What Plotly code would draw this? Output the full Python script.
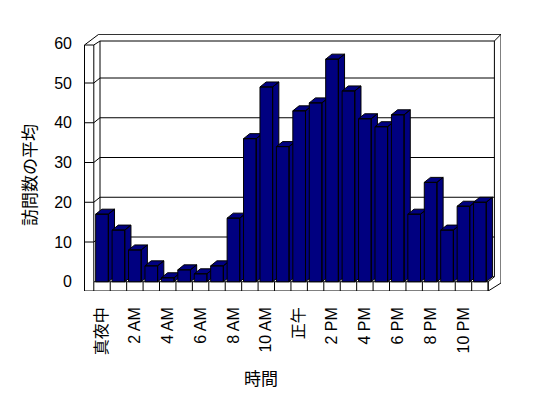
import plotly.graph_objects as go

# ---- data ----
hours = list(range(24))
visits = [17, 13, 8, 4, 1, 3, 2, 4, 16, 36, 49, 34, 43, 45, 56, 48, 41, 39, 42, 17, 25, 13, 19, 20]
tick_positions = [0, 2, 4, 6, 8, 10, 12, 14, 16, 18, 20, 22]
tick_labels = ["真夜中", "2 AM", "4 AM", "6 AM", "8 AM", "10 AM", "正午", "2 PM", "4 PM", "6 PM", "8 PM", "10 PM"]
y_ticks = [0, 10, 20, 30, 40, 50, 60]
x_title = "時間"
y_title = "訪問数の平均"

# ---- geometry (pixel <-> data helpers for the 3D frame) ----
W, H = 548, 398
PITCH = 16.43          # px per category
CX0 = 102.0            # px of category 0 centre
PX_PER_UNIT = 3.975    # px per value unit
Y0 = 281.75            # px of value 0 on front plane
L, R, T, B = 84, 501, 34, 291


def X(px):
    return (px - CX0) / PITCH


def Y(py):
    return (Y0 - py) / PX_PER_UNIT


def PX(px):
    return (px - L) / (R - L)


def PY(py):
    return (B - py) / (B - T)


DX = 6.2 / PITCH
DY = 5.0 / PX_PER_UNIT
BW = 0.77
NAVY = "#000080"

fig = go.Figure()

# bars as 3D prisms (side, top, front), drawn left to right
for i, v in zip(hours, visits):
    xl, xr = i - BW / 2, i + BW / 2
    xs, ys = [], []
    xs += [xr, xr, xr + DX, xr + DX, xr, None]
    ys += [0, v, v + DY, DY, 0, None]
    xs += [xl, xr, xr + DX, xl + DX, xl, None]
    ys += [v, v, v + DY, v + DY, v, None]
    xs += [xl, xr, xr, xl, xl]
    ys += [0, 0, v, v, 0]
    fig.add_trace(go.Scatter(
        x=xs, y=ys, mode="lines", fill="toself", fillcolor=NAVY,
        line=dict(color="black", width=1), hoverinfo="skip", showlegend=False,
        cliponaxis=False,
    ))

shapes = []


def seg(p1, p2, layer="below"):
    shapes.append(dict(type="line", xref="x", yref="y",
                       x0=X(p1[0]), y0=Y(p1[1]), x1=X(p2[0]), y1=Y(p2[1]),
                       line=dict(color="black", width=1), layer=layer))


left_out, left_in, back_l, back_r, out_r = 84.5, 93.8, 100.0, 494.4, 501.0
front_r = 488.2
top_out, top_in = 34.3, 41.0
floor_top, floor_bot, back_floor = 281.75, 291.0, 276.75

# left wall
seg((left_out, 45), (left_out, floor_bot))
seg((left_out, 45), (left_in, 45))
seg((left_in, 45), (left_in, floor_top))
seg((left_out, 45), (98.7, top_out))
seg((left_in, 45), (back_l, top_in))
seg((back_l, top_in), (back_l, back_floor))
# back wall
seg((98.7, top_out), (out_r, top_out))
seg((back_l, top_in), (back_r, top_in))
seg((back_r, top_in), (out_r, top_out))
seg((back_r, top_in), (back_r, back_floor))
seg((out_r, top_out), (out_r, 283.0))
seg((back_l, back_floor), (back_r, back_floor))
# floor slab
seg((left_in, floor_top), (front_r, floor_top))
seg((left_out, floor_bot), (front_r, floor_bot))
seg((front_r, floor_top), (front_r, floor_bot))
seg((front_r, floor_bot), (out_r, 283.0))
seg((front_r, floor_top), (back_r, back_floor))
for k in range(25):
    shapes.append(dict(type="line", xref="x", yref="y",
                       x0=k - 0.5, x1=k - 0.5, y0=0, y1=Y(floor_bot),
                       line=dict(color="black", width=1), layer="below"))
# gridlines
for v in y_ticks[1:-1]:
    shapes.append(dict(type="line", xref="x", yref="y", x0=X(left_out), x1=X(left_in), y0=v, y1=v,
                       line=dict(color="black", width=1), layer="below"))
    shapes.append(dict(type="line", xref="x", yref="y", x0=X(left_in), x1=X(back_l), y0=v, y1=v + DY,
                       line=dict(color="black", width=1), layer="below"))
    shapes.append(dict(type="line", xref="x", yref="y", x0=X(back_l), x1=X(back_r), y0=v + DY, y1=v + DY,
                       line=dict(color="black", width=1), layer="below"))

FONT = "Liberation Sans, Arial, Noto Sans CJK JP"

fig.update_layout(
    width=W, height=H,
    margin=dict(l=L, r=W - R, t=T, b=H - B, pad=0),
    paper_bgcolor="white", plot_bgcolor="white",
    shapes=shapes,
    font=dict(family=FONT, color="black", size=16),
    xaxis=dict(range=[X(L), X(R)], showgrid=False, zeroline=False, showline=False,
               tickmode="array", tickvals=tick_positions, ticktext=tick_labels,
               tickangle=-90, ticks="", ticklabelstandoff=12,
               tickfont=dict(size=16, family=FONT)),
    yaxis=dict(range=[Y(B), Y(T)], showgrid=False, zeroline=False, showline=False,
               tickmode="array", tickvals=y_ticks, ticks="", ticklabelstandoff=11,
               tickfont=dict(size=16, family=FONT)),
    annotations=[
        dict(text=x_title, xref="paper", yref="paper", x=PX(260.5), y=PY(377), showarrow=False,
             font=dict(size=17, family="Noto Sans CJK JP"), xanchor="center", yanchor="middle"),
        dict(text=y_title, xref="paper", yref="paper", x=PX(28), y=PY(175), showarrow=False, textangle=-90,
             font=dict(size=17, family="Noto Sans CJK JP"), xanchor="center", yanchor="middle"),
    ],
)

fig.write_html("out.html")
